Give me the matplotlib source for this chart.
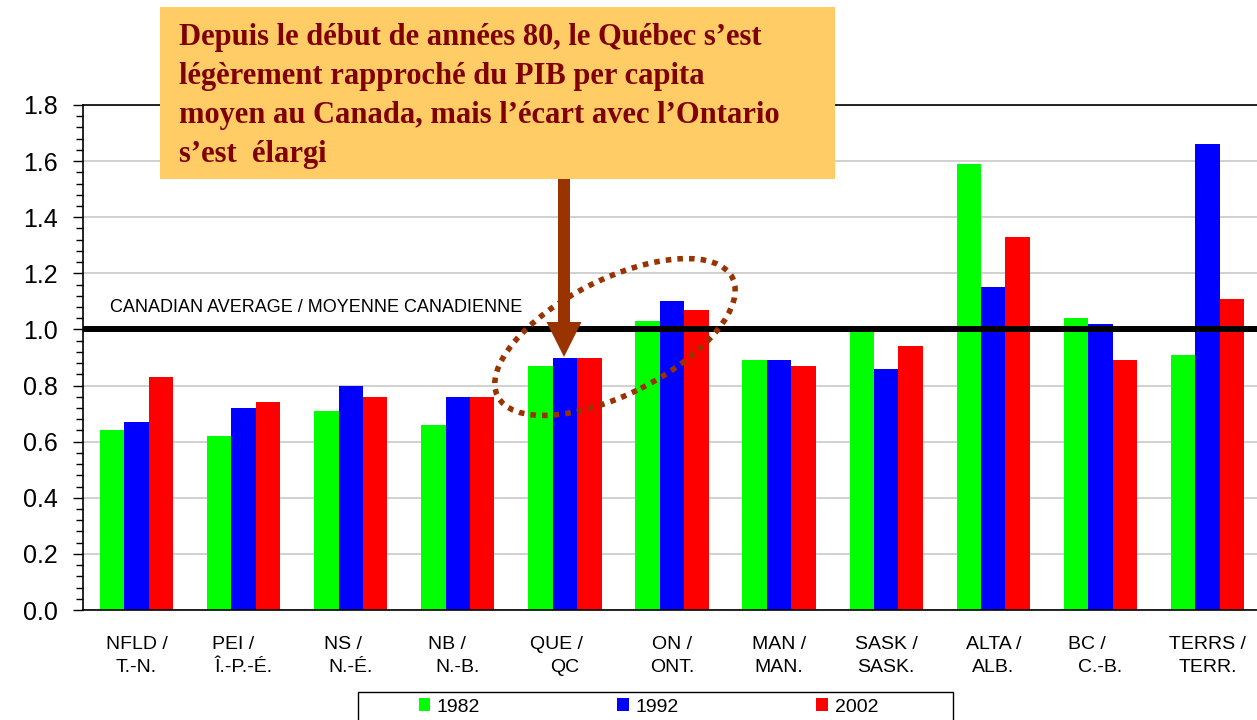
import numpy as np
import matplotlib.pyplot as plt
from matplotlib.patches import Rectangle, Ellipse, FancyArrow
from matplotlib.ticker import MultipleLocator, FormatStrFormatter

plt.rcParams['font.family'] = ['Liberation Sans', 'DejaVu Sans']

# Data
provinces = ['NFLD /\nT.-N.', 'PEI /    \nÎ.-P.-É.', 'NS /   \nN.-É.', 'NB /    \nN.-B.',
             'QUE /   \nQC', 'ON /\nONT.', 'MAN /\nMAN.', 'SASK /\nSASK.',
             'ALTA /\nALB.', 'BC /     \nC.-B.', 'TERRS /\nTERR.']
years = ['1982', '1992', '2002']
gdp_1982 = [0.64, 0.62, 0.71, 0.66, 0.87, 1.03, 0.89, 0.99, 1.59, 1.04, 0.91]
gdp_1992 = [0.67, 0.72, 0.80, 0.76, 0.90, 1.10, 0.89, 0.86, 1.15, 1.02, 1.66]
gdp_2002 = [0.83, 0.74, 0.76, 0.76, 0.90, 1.07, 0.87, 0.94, 1.33, 0.89, 1.11]
colors = ['#00FF00', '#0000FF', '#FF0000']
avg_label = 'CANADIAN AVERAGE / MOYENNE CANADIENNE'
note = ("Depuis le début de années 80, le Québec s’est\n"
        "légèrement rapproché du PIB per capita\n"
        "moyen au Canada, mais l’écart avec l’Ontario\n"
        "s’est  élargi")

W, H = 1257, 720
fig = plt.figure(figsize=(W / 100, H / 100), dpi=100)
ax = fig.add_axes([83 / W, 110 / H, 1178 / W, 505 / H])

x = np.arange(len(provinces))
w = 0.228
bars = []
for i, (vals, c, yr) in enumerate(zip([gdp_1982, gdp_1992, gdp_2002], colors, years)):
    bars.append(ax.bar(x + (i - 1) * w, vals, w, color=c, label=yr, zorder=2))

ax.set_xlim(-0.5, 10.5)
ax.set_ylim(0, 1.8)
ax.yaxis.set_major_locator(MultipleLocator(0.2))
ax.yaxis.set_minor_locator(MultipleLocator(0.04))
ax.yaxis.set_major_formatter(FormatStrFormatter('%.1f'))
ax.grid(axis='y', which='major', color='#C8C8C8', lw=1.2, zorder=0)
ax.set_axisbelow(True)
ax.axhline(1.0, color='black', lw=4.3, zorder=3)
ax.text(0.023, 1.063, avg_label, transform=ax.get_yaxis_transform(),
        fontsize=13, va='baseline', ha='left', zorder=4)

ax.set_xticks(x, provinces)
ax.tick_params(axis='x', length=0, pad=19, labelsize=14)
for lbl in ax.get_xticklabels():
    lbl.set_linespacing(1.4)
ax.tick_params(axis='y', which='major', length=7, width=1, labelsize=18, pad=11)
ax.tick_params(axis='y', which='minor', length=5, width=1)
ax.spines['right'].set_visible(False)
for s in ['left', 'bottom', 'top']:
    ax.spines[s].set_linewidth(1.2)

# legend (box drawn separately, cut by the bottom edge)
tr = fig.dpi_scale_trans
fig.add_artist(Rectangle((3.58, -0.10), 5.95, 0.38, transform=tr,
                         facecolor='white', edgecolor='black', lw=1))
fig.legend(handles=bars, labels=years, ncol=3, frameon=False, fontsize=14,
           loc='center left', bbox_to_anchor=(401 / W, 13 / H),
           handlelength=0.6, handleheight=0.6, handletextpad=0.35,
           columnspacing=7.05)

# annotation: box, arrow, dotted ellipse
fig.add_artist(Rectangle((1.60, (H - 179.3) / 100), 6.745, 1.72, transform=tr,
                         facecolor='#FFCC66', edgecolor='none', zorder=5))
fig.text(1.79 / (W / 100), 1 - 161.7 / H, note, fontsize=22, fontweight='bold',
         family='Liberation Serif', color='#800000', va='baseline', ha='left',
         linespacing=1.45, zorder=6)
fig.add_artist(FancyArrow(5.64, (H - 179) / 100, 0, -1.78, width=0.12,
                          head_width=0.35, head_length=0.35,
                          length_includes_head=True, transform=tr,
                          facecolor='#993300', edgecolor='none', zorder=5))
fig.add_artist(Ellipse((6.15, (H - 337) / 100), 2.63, 1.15, angle=26.8,
                       transform=tr, fill=False, edgecolor='#993300', lw=4,
                       linestyle=(0, (1, 1.1)), zorder=5))

fig.savefig('out.png', dpi=100)
